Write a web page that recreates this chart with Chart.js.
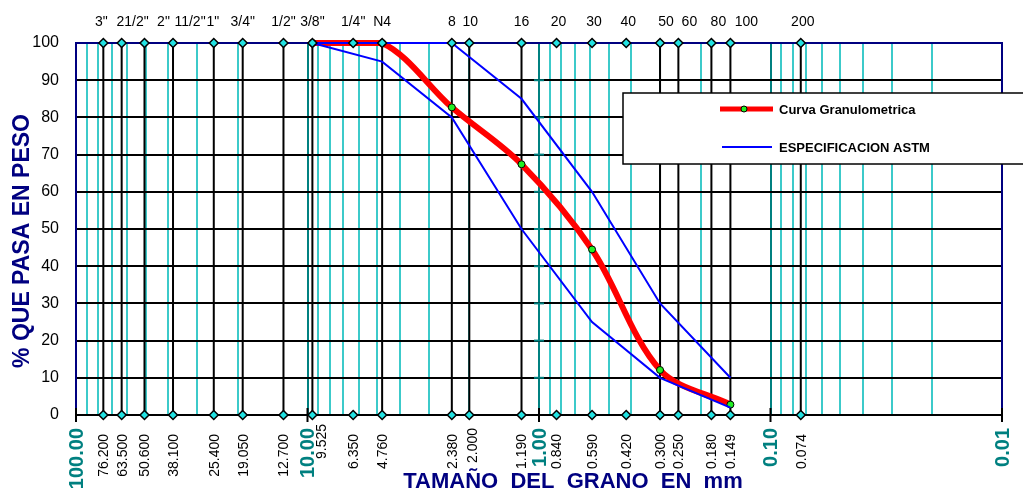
<!DOCTYPE html>
<html><head><meta charset="utf-8">
<script src="https://cdn.jsdelivr.net/npm/chart.js@4/dist/chart.umd.min.js"></script>
<style>html,body{margin:0;padding:0;background:#fff;overflow:hidden}#wrap{width:1023px;height:494px;position:relative}</style>
</head><body><div id="wrap"><canvas id="c" width="1023" height="494"></canvas></div>
<script>
// ---------- DATA ----------
const sieveNames = ['3"','21/2"','2"','11/2"','1"','3/4"','1/2"','3/8"','1/4"','N4','8','10','16','20','30','40','50','60','80','100','200'];
const sieveSizes = [76.2,63.5,50.6,38.1,25.4,19.05,12.7,9.525,6.35,4.76,2.38,2.0,1.19,0.84,0.59,0.42,0.30,0.25,0.18,0.149,0.074];
const sieveSizeLabels = ['76.200','63.500','50.600','38.100','25.400','19.050','12.700','9.525','6.350','4.760','2.380','2.000','1.190','0.840','0.590','0.420','0.300','0.250','0.180','0.149','0.074'];
const lineSieves = [76.2,63.5,50.6,38.1,25.4,19.05,12.7,9.525,4.76,2.38,2.0,1.19,0.30,0.25,0.18,0.149,0.074];
const curveSizes = [9.525,4.76,2.38,1.19,0.59,0.30,0.149];
const curvePassing = [100,100,82.7,67.4,44.5,12.1,2.8];
const specSizes = [9.525,4.76,2.38,1.19,0.59,0.30,0.149];
const specUpper = [100,100,100,85,60,30,10];
const specLower = [100,95,80,50,25,10,2];
const decadeValues = [100,10,1,0.1,0.01];
const decadeLabels = ['100.00','10.00','1.00','0.10','0.01'];
const legendLabels = ['Curva Granulometrica','ESPECIFICACION ASTM'];
const xTitle = 'TAMAÑO  DEL  GRANO  EN  mm';
const yTitle = '% QUE PASA EN PESO';

// ---------- STYLE ----------
const FONT = '"Liberation Sans", Arial, sans-serif';
const NAVY = '#000080', TEAL = '#008080', CYAN = '#3ccaca', DIAMOND = '#22e2e2';
const topNudge = [-2,11,19,17,-1,0,0,0,0,0,0,1,0,2,2,2,6,11,7,16,2];

const pts = (xs, ys) => xs.map((x,i)=>({x, y: ys[i]}));
const sieveLineData = [];
lineSieves.forEach(s => { sieveLineData.push({x:s,y:0},{x:s,y:100},{x:s,y:null}); });

const gridValues = [];
for (let e = -2; e <= 1; e++) for (let m = 1; m <= 9; m++) gridValues.push(+(m*Math.pow(10,e)).toPrecision(3));
gridValues.push(100);
const isDecade = v => Math.abs(Math.log10(v) - Math.round(Math.log10(v))) < 1e-9;

const decor = {
  id: 'decor',
  beforeDatasetsDraw(chart) {
    const {ctx, chartArea: a, scales: {x, y}} = chart;
    ctx.save();
    const x1 = x.getPixelForValue(1);
    ctx.strokeStyle = TEAL; ctx.lineWidth = 2;
    for (let v = 10; v <= 90; v += 10) {
      const py = y.getPixelForValue(v);
      ctx.beginPath(); ctx.moveTo(x1-5, py); ctx.lineTo(x1+5, py); ctx.stroke();
    }
    ctx.strokeStyle = NAVY; ctx.lineWidth = 2;
    ctx.beginPath();
    ctx.moveTo(a.left, a.bottom); ctx.lineTo(a.left, a.top); ctx.lineTo(a.right, a.top); ctx.lineTo(a.right, a.bottom);
    ctx.stroke();
    ctx.strokeStyle = '#000'; ctx.lineWidth = 2;
    ctx.beginPath(); ctx.moveTo(a.left-1, a.bottom); ctx.lineTo(a.right+1, a.bottom); ctx.stroke();
    decadeValues.forEach(v => {
      const px = x.getPixelForValue(v);
      ctx.beginPath(); ctx.moveTo(px, a.bottom-7); ctx.lineTo(px, a.bottom+7); ctx.stroke();
    });
    ctx.restore();
  },
  afterDraw(chart) {
    const {ctx, chartArea: a, scales: {x, y}} = chart;
    ctx.save();
    ctx.fillStyle = '#000'; ctx.font = '14px ' + FONT; ctx.textAlign = 'center'; ctx.textBaseline = 'middle';
    sieveNames.forEach((n,i) => ctx.fillText(n, x.getPixelForValue(sieveSizes[i]) + topNudge[i], 22));
    sieveSizeLabels.forEach((l,i) => {
      let px = x.getPixelForValue(sieveSizes[i]) + 1, top = 434;
      if (l === '9.525') { px += 9; top = 424; }
      if (l === '2.000') { px += 3; top = 428; }
      ctx.save(); ctx.translate(px, top); ctx.rotate(-Math.PI/2);
      ctx.textAlign = 'right'; ctx.textBaseline = 'middle'; ctx.font = '14px ' + FONT; ctx.fillStyle = '#000';
      ctx.fillText(l, 0, 0); ctx.restore();
    });
    decadeLabels.forEach((l,i) => {
      const px = x.getPixelForValue(decadeValues[i]) + 1;
      ctx.save(); ctx.translate(px, 428); ctx.rotate(-Math.PI/2);
      ctx.textAlign = 'right'; ctx.textBaseline = 'middle'; ctx.font = 'bold 20px ' + FONT; ctx.fillStyle = TEAL;
      ctx.fillText(l, 0, 0); ctx.restore();
    });
    ctx.fillStyle = NAVY; ctx.font = 'bold 22px ' + FONT; ctx.textAlign = 'center'; ctx.textBaseline = 'middle';
    ctx.fillText(xTitle, 573, 482);
    ctx.save(); ctx.translate(23, 241); ctx.rotate(-Math.PI/2);
    ctx.font = 'bold 23px ' + FONT; ctx.fillText(yTitle, 0, 0); ctx.restore();
    ctx.fillStyle = '#fff'; ctx.strokeStyle = '#000'; ctx.lineWidth = 1.5;
    ctx.fillRect(623, 93, 440, 71); ctx.strokeRect(623, 93, 440, 71);
    ctx.strokeStyle = '#ff0000'; ctx.lineWidth = 5; ctx.lineCap = 'butt';
    ctx.beginPath(); ctx.moveTo(720, 109); ctx.lineTo(773, 109); ctx.stroke();
    ctx.fillStyle = '#22ee22'; ctx.strokeStyle = '#000'; ctx.lineWidth = 1;
    ctx.beginPath(); ctx.arc(744, 109, 3, 0, Math.PI*2); ctx.fill(); ctx.stroke();
    ctx.strokeStyle = '#0000ff'; ctx.lineWidth = 2;
    ctx.beginPath(); ctx.moveTo(722, 147); ctx.lineTo(772, 147); ctx.stroke();
    ctx.fillStyle = '#000'; ctx.font = 'bold 13px ' + FONT; ctx.textAlign = 'left'; ctx.textBaseline = 'middle';
    ctx.fillText(legendLabels[0], 779, 110);
    ctx.fillText(legendLabels[1], 779, 148);
    ctx.restore();
  }
};

new Chart(document.getElementById('c'), {
  type: 'line',
  data: {
    datasets: [
      { label: 'sieves', data: sieveLineData, borderColor: '#000', borderWidth: 2, pointRadius: 0, spanGaps: false, order: 4, clip: false },
      { label: legendLabels[0], data: pts(curveSizes, curvePassing), borderColor: '#ff0000', borderWidth: 6, tension: 0.33,
        pointRadius: 3.5, pointBackgroundColor: '#22ee22', pointBorderColor: '#000', pointBorderWidth: 1, order: 3, clip: false },
      { label: legendLabels[1], data: pts(specSizes, specUpper), borderColor: '#0000ff', borderWidth: 2, pointRadius: 0, tension: 0, order: 2, clip: false },
      { label: legendLabels[1] + ' inf', data: pts(specSizes, specLower), borderColor: '#0000ff', borderWidth: 2, pointRadius: 0, tension: 0, order: 2, clip: false },
      { label: 'top', data: sieveSizes.map(s => ({x:s, y:100})), showLine: false, pointStyle: 'rectRot', pointRadius: 4.5,
        pointBackgroundColor: DIAMOND, pointBorderColor: '#000', pointBorderWidth: 1.5, order: 1, clip: false },
      { label: 'bottom', data: sieveSizes.map(s => ({x:s, y:0})), showLine: false, pointStyle: 'rectRot', pointRadius: 4.5,
        pointBackgroundColor: DIAMOND, pointBorderColor: '#000', pointBorderWidth: 1.5, order: 1, clip: false }
    ]
  },
  options: {
    responsive: false, animation: false, devicePixelRatio: 1,
    layout: { padding: { top: 43, right: 21, left: 0, bottom: 0 } },
    plugins: { legend: { display: false }, tooltip: { enabled: false } },
    scales: {
      x: {
        type: 'logarithmic', min: 0.01, max: 100, reverse: true,
        afterBuildTicks: s => { s.ticks = gridValues.map(v => ({ value: v })); },
        afterFit: s => { s.height = 79; },
        ticks: { display: false },
        border: { display: false },
        grid: { drawTicks: false, lineWidth: 2, color: c => isDecade(c.tick.value) ? TEAL : CYAN }
      },
      y: {
        min: 0, max: 100,
        afterFit: s => { s.width = 76; },
        ticks: { stepSize: 10, padding: 17, color: '#000', font: { family: FONT, size: 16 } },
        border: { display: false },
        grid: { drawTicks: false, lineWidth: 2, color: c => c.tick.value === 100 ? NAVY : '#000' }
      }
    }
  },
  plugins: [decor]
});
</script></body></html>
